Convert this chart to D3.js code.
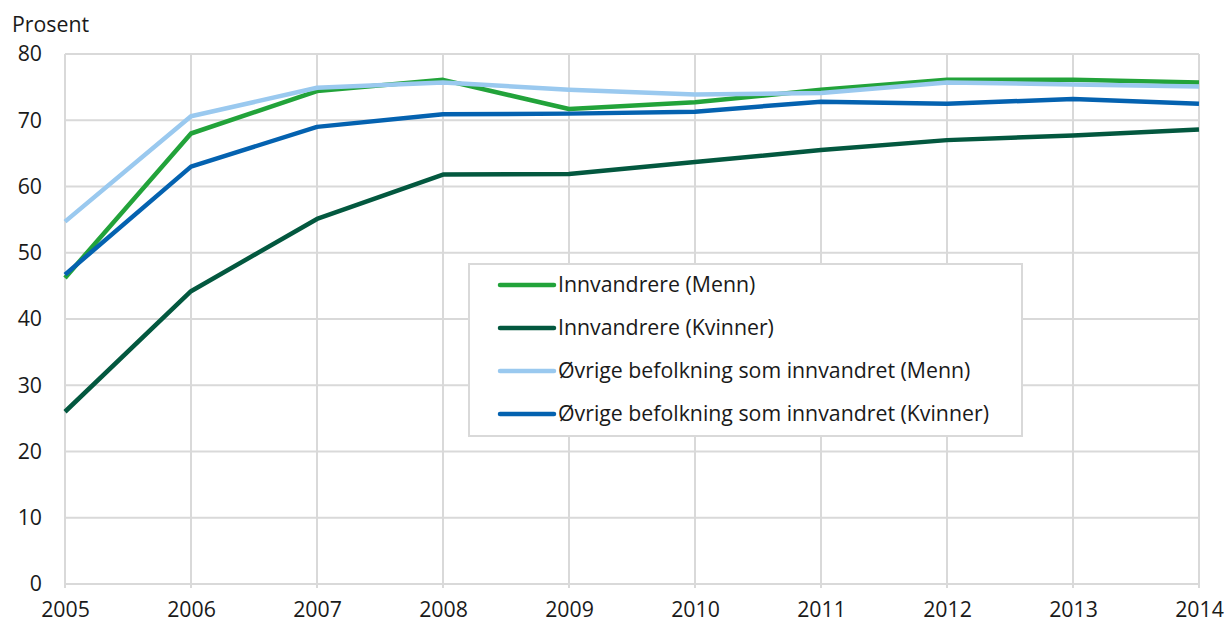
<!DOCTYPE html>
<html>
<head>
<meta charset="utf-8">
<script src="https://cdn.jsdelivr.net/npm/d3@7"></script>
<style>
  body { margin: 0; background: #fff; }
  svg text { font-family: "Open Sans", "Noto Sans", sans-serif; fill: #1a1a1a; }
</style>
</head>
<body>
<div id="chart"></div>
<script>
// data
const years = [2005, 2006, 2007, 2008, 2009, 2010, 2011, 2012, 2013, 2014];
const innvMenn = [46.2, 68.0, 74.4, 76.1, 71.7, 72.7, 74.6, 76.1, 76.1, 75.7];
const innvKvinner = [26.0, 44.2, 55.1, 61.8, 61.9, 63.7, 65.5, 67.0, 67.7, 68.6];
const ovrigeMenn = [54.7, 70.6, 74.9, 75.7, 74.6, 73.9, 74.1, 75.7, 75.4, 75.1];
const ovrigeKvinner = [46.7, 63.0, 69.0, 70.9, 71.0, 71.3, 72.8, 72.5, 73.2, 72.5];
const yTicks = [0, 10, 20, 30, 40, 50, 60, 70, 80];

const series = [
  { name: "Innvandrere (Menn)", values: innvMenn, color: "#22a33a" },
  { name: "Innvandrere (Kvinner)", values: innvKvinner, color: "#03583f" },
  { name: "Øvrige befolkning som innvandret (Menn)", values: ovrigeMenn, color: "#9ac9ef" },
  { name: "Øvrige befolkning som innvandret (Kvinner)", values: ovrigeKvinner, color: "#0462b0" }
];

const W = 1226, H = 624;
const margin = { top: 54, right: 27, bottom: 40, left: 65 };
const width = W - margin.left - margin.right,
      height = H - margin.top - margin.bottom;
const fontSize = "21.3px";

const svg = d3.select("#chart").append("svg")
    .attr("width", W)
    .attr("height", H);

const g = svg.append("g")
    .attr("transform", `translate(${margin.left},${margin.top})`);

const x = d3.scaleLinear().domain([2005, 2014]).range([0, width]);
const y = d3.scaleLinear().domain([0, 80]).range([height, 0]);

// grid
g.append("g").selectAll("line")
  .data(yTicks)
  .join("line")
  .attr("x1", 0).attr("x2", width)
  .attr("y1", d => y(d)).attr("y2", d => y(d))
  .attr("stroke", "#d9d9d9").attr("stroke-width", 2);

g.append("g").selectAll("line")
  .data(years)
  .join("line")
  .attr("x1", d => x(d)).attr("x2", d => x(d))
  .attr("y1", 0).attr("y2", height + 4)
  .attr("stroke", "#d9d9d9").attr("stroke-width", 2);

// axes (labels only)
const yAxis = g.append("g")
    .call(d3.axisLeft(y).tickValues(yTicks).tickSize(0).tickPadding(23));
yAxis.select(".domain").remove();
yAxis.selectAll("text").style("font-size", fontSize).attr("fill", "#1a1a1a");

const xAxis = g.append("g")
    .attr("transform", `translate(0,${height})`)
    .call(d3.axisBottom(x).tickValues(years).tickFormat(d3.format("d")).tickSize(0).tickPadding(18));
xAxis.select(".domain").remove();
xAxis.selectAll("text").style("font-size", fontSize).attr("fill", "#1a1a1a");

svg.append("text")
  .attr("x", 12).attr("y", 32)
  .style("font-size", fontSize)
  .text("Prosent");

// lines
const line = d3.line()
    .x((d, i) => x(years[i]))
    .y(d => y(d));

series.forEach(s => {
  g.append("path")
    .datum(s.values)
    .attr("fill", "none")
    .attr("stroke", s.color)
    .attr("stroke-width", 4.5)
    .attr("stroke-linejoin", "round")
    .attr("d", line);
});

// legend
const legend = svg.append("g").attr("transform", "translate(469,264)");
legend.append("rect")
  .attr("width", 553).attr("height", 172)
  .attr("fill", "#fff")
  .attr("stroke", "#d9d9d9").attr("stroke-width", 2);

const items = legend.selectAll("g.item")
  .data(series)
  .join("g")
  .attr("class", "item")
  .attr("transform", (d, i) => `translate(0,${21 + i * 43})`);

items.append("line")
  .attr("x1", 31).attr("x2", 85)
  .attr("y1", 0).attr("y2", 0)
  .attr("stroke", d => d.color)
  .attr("stroke-width", 4.5)
  .attr("stroke-linecap", "round");

items.append("text")
  .attr("x", 89).attr("y", 0)
  .attr("dy", "0.35em")
  .style("font-size", fontSize)
  .text(d => d.name);
</script>
</body>
</html>
